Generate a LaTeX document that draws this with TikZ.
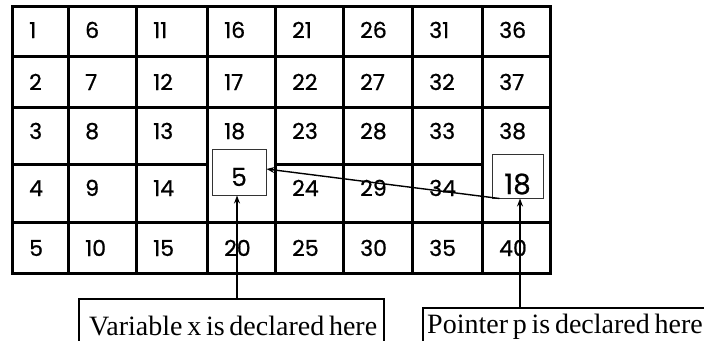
\documentclass[tikz,border=0pt]{standalone}
\usepackage{fontspec}
\newfontfamily\numfont[FakeBold=0.8]{Poppins}
\newfontfamily\valfont[FakeBold=0.4]{Poppins}
\newfontfamily\lblfont{Liberation Serif}
\newcommand\lblstyle{\lblfont\fontsize{28}{28}\selectfont\spaceskip=0.17em plus 0.05em\relax}
\usetikzlibrary{arrows.meta}
\begin{document}
\begin{tikzpicture}[x=1pt,y=-1pt,
  gridline/.style={line width=3pt,line cap=rect},
  cellnum/.style={anchor=base west,inner sep=0pt,font=\numfont\fontsize{22}{22}\selectfont},
  valbox/.style={draw=black!80,line width=1pt,inner sep=0pt,font=\valfont\fontsize{25}{25}\selectfont},
  lbltext/.style={anchor=base west,inner sep=0pt},
  lblframe/.style={draw=black,line width=1.4pt},
  ptr/.style={line width=1.4pt,-{Stealth[length=8pt,width=6pt]}}]
\useasboundingbox (0,0) rectangle (704,340);
% grid
\draw[gridline] (12,6) rectangle (550,273);
\foreach \x in {68,136,207,275,343,412,482} \draw[gridline] (\x,6) -- (\x,273);
\foreach \y in {56,107,222} \draw[gridline] (12,\y) -- (550,\y);
\draw[gridline] (12,164) -- (207,164);
\draw[gridline] (275,164) -- (482,164);
% numbers
\foreach \j/\xl in {0/12,1/68,2/136,3/207,4/275,5/343,6/412,7/482}{
  \foreach \i/\yb in {0/38,1/90,2/139,3/196,4/256}{
    \pgfmathtruncatemacro\n{5*\j+\i+1}
    \ifnum\n=19\relax\else\ifnum\n=39\relax\else
      \node[cellnum] (n\n) at (\xl+17,\yb) {\n};
    \fi\fi
  }
}
% value boxes
\node[valbox,minimum width=54pt,text height=37pt,text depth=9pt] (valx) at (239,172) {5};
\node[valbox,minimum width=51pt,text height=40pt,text depth=4pt,
      font=\valfont\fontsize{28}{28}\selectfont] (valp) at (517.5,176) {18};
% label boxes (open at the bottom, cut by the page edge)
\node[lbltext] (lblx) at (89,335) {\lblstyle Variable x is declared here};
\draw[lblframe] (79,350) |- (384,299) -- (384,350);
\coordinate (lxtop) at (237,299);
\node[lbltext] (lblp) at (427,333) {\lblstyle Pointer p is declared here};
\draw[lblframe] (423,350) |- (720,308);
\coordinate (lptop) at (520,308);
% connectors
\draw[ptr] (lxtop) -- (lxtop |- valx.south);
\draw[ptr] (lptop) -- (lptop |- valp.south);
\draw[ptr] ([xshift=8pt]valp.south west) -- ([yshift=3pt]valx.east);
\end{tikzpicture}
\end{document}
